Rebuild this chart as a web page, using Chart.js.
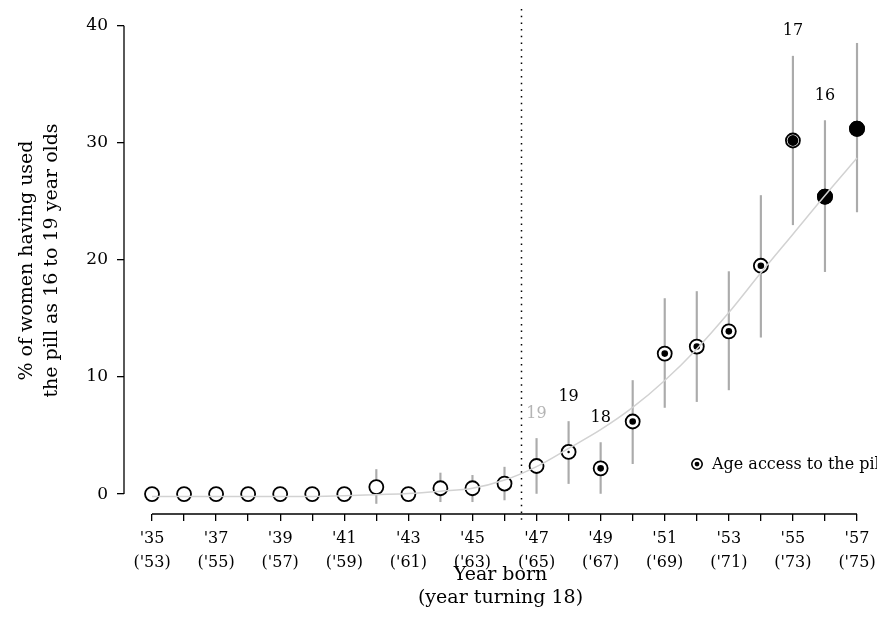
<!DOCTYPE html>
<html>
<head>
<meta charset="utf-8">
<script src="https://cdn.jsdelivr.net/npm/chart.js@4.4.1/dist/chart.umd.min.js"></script>
<style>
  html, body { margin: 0; padding: 0; background: #fff; overflow: hidden; }
  #wrap { width: 877px; height: 644px; position: relative; }
  canvas { display: block; }
</style>
</head>
<body>
<div id="wrap"><canvas id="myChart"></canvas></div>
<script>
// birth cohorts ('35 .. '57)
const years = [35, 36, 37, 38, 39, 40, 41, 42, 43, 44, 45, 46, 47, 48, 49, 50, 51, 52, 53, 54, 55, 56, 57]
// % who used the pill at 16-19
const usedPill = [0, 0, 0, 0, 0, 0, 0, 0.6, 0, 0.5, 0.5, 0.9, 2.4, 3.6, 2.2, 6.2, 12.0, 12.6, 13.9, 19.5, 30.2, 25.4, 31.2]
const ciLow = [null, null, null, null, null, null, null, -0.8, null, -0.65, -0.65, -0.5, 0.0, 0.9, 0.0, 2.6, 7.4, 7.9, 8.9, 13.4, 23.0, 19.0, 24.1]
const ciHigh = [null, null, null, null, null, null, null, 2.1, null, 1.8, 1.6, 2.3, 4.75, 6.2, 4.4, 9.7, 16.7, 17.3, 19.0, 25.5, 37.4, 31.9, 38.5]
// smoothed trend
const trend = [-0.2, -0.2, -0.2, -0.2, -0.2, -0.2, -0.15, -0.05, 0.05, 0.25, 0.5, 1.2, 2.35, 3.9, 5.5, 7.4, 9.7, 12.4, 15.5, 18.9, 22.2, 25.5, 28.7]
// age at which the pill became accessible to the cohort
const accessAge = [null, null, null, null, null, null, null, null, null, null, null, null, '19', '19', '18', null, null, null, null, null, '17', '16', null]
const yTicks = [0, 10, 20, 30, 40]
const cutoffYear = 46.5

const serif = 'DejaVu Serif'
// size of the filled centre, by cohort
const dotRadius = years.map((y) => {
  if (y < 48) return 0
  if (y === 48) return 1.2
  if (y < 55) return 3.3
  if (y === 55) return 5.4
  return 8
})

const pts = (vals) => years.map((x, i) => ({ x, y: vals[i] }))

// keep the plot area where afterFit puts it
const noPadding = (scale) => {
  scale.paddingLeft = 0
  scale.paddingRight = 0
  scale.paddingTop = 0
  scale.paddingBottom = 0
}

const extras = {
  id: 'extras',
  beforeDatasetsDraw(chart) {
    const { ctx, chartArea, scales } = chart
    const x = scales.x
    const y = scales.y
    ctx.save()
    // axis lines only over the tick range
    ctx.strokeStyle = '#000'
    ctx.lineWidth = 1.3
    ctx.beginPath()
    ctx.moveTo(chartArea.left, y.getPixelForValue(yTicks[0]))
    ctx.lineTo(chartArea.left, y.getPixelForValue(yTicks[yTicks.length - 1]))
    ctx.moveTo(x.getPixelForValue(years[0]), chartArea.bottom)
    ctx.lineTo(x.getPixelForValue(years[years.length - 1]), chartArea.bottom)
    ctx.stroke()
    // dotted cutoff line
    const cx = Math.round(x.getPixelForValue(cutoffYear)) + 0.5
    ctx.setLineDash([1.5, 5.2])
    ctx.lineWidth = 1.5
    ctx.beginPath()
    ctx.moveTo(cx, chartArea.top + 2)
    ctx.lineTo(cx, chartArea.bottom + 10)
    ctx.stroke()
    ctx.restore()
  },
  afterDatasetsDraw(chart) {
    const { ctx, chartArea, scales } = chart
    const x = scales.x
    const y = scales.y
    ctx.save()
    ctx.font = `16px "${serif}"`
    ctx.textAlign = 'center'
    ctx.textBaseline = 'middle'
    accessAge.forEach((txt, i) => {
      if (!txt) return
      ctx.fillStyle = years[i] < 48 ? '#b4b4b4' : '#000'
      ctx.fillText(txt, x.getPixelForValue(years[i]), y.getPixelForValue(ciHigh[i]) - 25)
    })
    // legend
    const lx = chartArea.right - 180
    const ly = y.getPixelForValue(2.56)
    ctx.lineWidth = 1.6
    ctx.strokeStyle = '#000'
    ctx.fillStyle = '#fff'
    ctx.beginPath()
    ctx.arc(lx, ly, 5.2, 0, Math.PI * 2)
    ctx.fill()
    ctx.stroke()
    ctx.fillStyle = '#000'
    ctx.beginPath()
    ctx.arc(lx, ly, 2.4, 0, Math.PI * 2)
    ctx.fill()
    ctx.textAlign = 'left'
    ctx.fillText('Age access to the pill', lx + 15, ly + 1)
    ctx.restore()
  },
}

const chart = new Chart(document.getElementById('myChart'), {
  type: 'scatter',
  data: {
    datasets: [
      {
        type: 'line',
        data: pts(trend),
        borderColor: '#d2d2d2',
        borderWidth: 1.5,
        pointRadius: 0,
        cubicInterpolationMode: 'monotone',
        fill: false,
        order: 0,
      },
      {
        data: pts(usedPill),
        pointRadius: dotRadius,
        pointBackgroundColor: '#000',
        pointBorderWidth: 0,
        order: 1,
      },
      {
        data: pts(usedPill),
        pointRadius: 7,
        pointBackgroundColor: '#fff',
        pointBorderColor: '#000',
        pointBorderWidth: 1.8,
        order: 2,
      },
      {
        type: 'bar',
        data: years.map((x, i) => ({ x, y: ciLow[i] === null ? null : [ciLow[i], ciHigh[i]] })),
        backgroundColor: '#ababab',
        barThickness: 1.5,
        grouped: false,
        borderWidth: 0,
        order: 3,
      },
    ],
  },
  options: {
    responsive: true,
    maintainAspectRatio: false,
    animation: false,
    layout: {
      autoPadding: false,
      padding: { top: 7, right: 0, bottom: 0, left: 0 },
    },
    plugins: {
      legend: { display: false },
      tooltip: { enabled: false },
    },
    scales: {
      x: {
        type: 'linear',
        offset: false,
        min: 34.126,
        max: 57.624,
        afterBuildTicks: (scale) => {
          scale.ticks = years.map((v) => ({ value: v }))
        },
        afterFit: (scale) => {
          scale.height = 130
          noPadding(scale)
        },
        border: { display: false },
        grid: {
          offset: false,
          drawOnChartArea: false,
          drawTicks: true,
          tickLength: 7,
          color: '#000',
          lineWidth: 1.3,
        },
        ticks: {
          autoSkip: false,
          maxRotation: 0,
          padding: 6,
          color: '#000',
          font: { family: serif, size: 16, lineHeight: 1.5 },
          callback: (v) => (v % 2 === 1 ? [`'${v}`, `('${v + 18})`] : ''),
        },
        title: {
          display: true,
          text: ['Year born', '(year turning 18)'],
          color: '#000',
          font: { family: serif, size: 19, lineHeight: 23 / 19 },
          padding: { top: 0, bottom: 34 },
        },
      },
      y: {
        min: -1.7,
        max: 41.6,
        afterBuildTicks: (scale) => {
          scale.ticks = yTicks.map((v) => ({ value: v }))
        },
        afterFit: (scale) => {
          scale.width = 124
          noPadding(scale)
        },
        border: { display: false },
        grid: {
          drawOnChartArea: false,
          drawTicks: true,
          tickLength: 7,
          color: '#000',
          lineWidth: 1.3,
        },
        ticks: {
          padding: 9,
          color: '#000',
          font: { family: serif, size: 17 },
        },
        title: {
          display: true,
          text: ['% of women having used', 'the pill as 16 to 19 year olds'],
          color: '#000',
          font: { family: serif, size: 19, lineHeight: 25 / 19 },
          padding: { top: 15, bottom: 0 },
        },
      },
    },
  },
  plugins: [extras],
})
</script>
</body>
</html>
